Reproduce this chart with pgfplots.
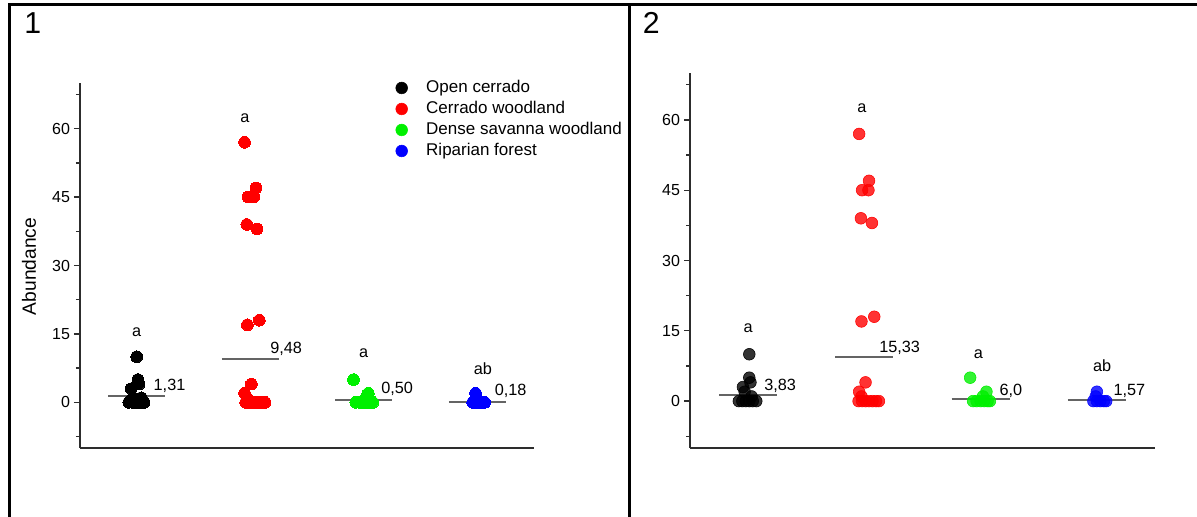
\documentclass[border=0pt]{standalone}
\usepackage{pgfplots}
\pgfplotsset{compat=1.18}
\usepackage{fontspec}
\setmainfont{Liberation Sans}
\definecolor{cgreen}{RGB}{0,240,0}
\definecolor{axgray}{RGB}{45,45,45}
\definecolor{meangray}{RGB}{100,100,100}

\pgfplotsset{
  panel/.style={
    scale only axis,
    axis x line=bottom, axis y line=left,
    axis line style={axgray, line width=1.5pt, -},
    xmin=0.5, xmax=4.5, ymin=-10, ymax=70,
    xtick=\empty,
    ytick={0,15,30,45,60},
    minor ytick={-7.5,7.5,22.5,37.5,52.5,67.5},
    tick align=outside,
    major tick length=4.5pt, minor tick length=3pt,
    tick style={axgray, line width=1pt},
    tick label style={font=\fontsize{12}{14}\selectfont},
    yticklabel style={xshift=0.5pt},
    /pgf/number format/assume math mode=true,
    clip=false,
  },
  dot/.style={only marks, color=#1, mark=*, mark size=4.4pt, mark options={draw=#1, fill=#1, line width=0pt}, forget plot},
  dotb/.style={only marks, color=#1, mark=*, mark size=4.4pt, mark options={draw=none, fill=#1, fill opacity=0.8}, forget plot},
  meanline/.style={meangray, line width=1.5pt, forget plot},
}
\tikzset{
  vlab/.style={anchor=base west, inner sep=0pt, font=\fontsize{12.2}{14}\selectfont},
  glab/.style={anchor=base, inner sep=0pt, font=\fontsize{12.2}{14}\selectfont},
}

\begin{document}
\begin{tikzpicture}
\useasboundingbox (0,0) rectangle (897.75pt,387.75pt);
\fill[white] (0,0) rectangle (897.75pt,387.75pt);
% frame
\draw[line width=2.25pt] (6.75pt,0pt) -- (6.75pt,384pt) -- (897.75pt,384pt);
\draw[line width=2.25pt] (471.75pt,0pt) -- (471.75pt,384pt);
% panel numbers
\node[anchor=north west, inner sep=0pt, font=\fontsize{22.7}{26}\selectfont] at (18pt,378.75pt) {1};
\node[anchor=north west, inner sep=0pt, font=\fontsize{22.7}{26}\selectfont] at (482pt,378.75pt) {2};
% y label
\node[rotate=90, inner sep=0pt, font=\fontsize{14.4}{16}\selectfont] at (21.75pt,187.9pt) {Abundance};

% ---------------- panel 1 ----------------
\begin{axis}[panel, at={(60pt,51.75pt)}, anchor=south west, width=340.5pt, height=273.75pt,
  legend style={draw=none, fill=none, at={(axis cs:3.245,71.6)}, anchor=north west,
    font=\fontsize{12.75}{15}\selectfont,
    nodes={inner sep=1pt, text height=9.5pt, text depth=2.5pt}, row sep=1.75pt,
    /tikz/every odd column/.append style={column sep=13pt}},
  legend cell align=left]
\addplot[dot=black] coordinates {(1.00,10) (1.01,5) (1.02,4) (0.95,3) (1.04,1) (0.97,1)
  (0.93,0) (0.96,0) (0.99,0) (1.02,0) (1.05,0) (1.065,0)};
\addplot[dot=red] coordinates {(1.95,57) (2.05,47) (1.98,45) (2.03,45) (1.97,39) (2.06,38)
  (2.08,18) (1.975,17) (2.01,4) (1.95,2) (1.97,1)
  (1.96,0) (1.99,0) (2.02,0) (2.05,0) (2.08,0) (2.11,0) (2.13,0)};
\addplot[dot=cgreen] coordinates {(2.91,5) (3.04,2) (3.02,1)
  (2.93,0) (2.96,0) (2.99,0) (3.02,0) (3.05,0) (3.08,0)};
\addplot[dot=blue] coordinates {(3.985,2) (3.99,1)
  (3.96,0) (3.99,0) (4.02,0) (4.05,0) (4.065,0)};
\addplot[meanline] coordinates {(0.75,1.31) (1.25,1.31)};
\addplot[meanline] coordinates {(1.75,9.48) (2.25,9.48)};
\addplot[meanline] coordinates {(2.75,0.50) (3.25,0.50)};
\addplot[meanline] coordinates {(3.75,0.18) (4.25,0.18)};
\node[vlab] at (axis cs:1.147,2.5) {1,31};
\node[vlab] at (axis cs:2.174,10.7) {9,48};
\node[vlab] at (axis cs:3.153,1.9) {0,50};
\node[vlab] at (axis cs:4.153,1.6) {0,18};
\node[glab] at (axis cs:1.0,14.45) {a};
\node[glab] at (axis cs:1.952,61.4) {a};
\node[glab] at (axis cs:3.0,9.85) {a};
\node[glab] at (axis cs:4.05,6.13) {ab};
\addlegendimage{only marks, mark=*, mark size=4.4pt, mark options={draw=black, fill=black}}
\addlegendentry{Open cerrado}
\addlegendimage{only marks, mark=*, mark size=4.4pt, mark options={draw=red, fill=red}}
\addlegendentry{Cerrado woodland}
\addlegendimage{only marks, mark=*, mark size=4.4pt, mark options={draw=cgreen, fill=cgreen}}
\addlegendentry{Dense savanna woodland}
\addlegendimage{only marks, mark=*, mark size=4.4pt, mark options={draw=blue, fill=blue}}
\addlegendentry{Riparian forest}
\end{axis}

% ---------------- panel 2 ----------------
\begin{axis}[panel, at={(517.5pt,51.75pt)}, anchor=south west, width=348.75pt, height=281.25pt]
\addplot[dotb=black] coordinates {(1.01,10) (1.01,5) (1.02,4) (0.955,3) (0.97,2) (1.03,1)
  (0.92,0) (0.95,0) (0.98,0) (1.01,0) (1.04,0) (1.07,0)};
\addplot[dotb=red] coordinates {(1.955,57) (2.04,47) (1.98,45) (2.035,45) (1.97,39) (2.065,38)
  (2.085,18) (1.975,17) (2.01,4) (1.955,2) (1.975,1)
  (1.95,0) (1.98,0) (2.01,0) (2.04,0) (2.07,0) (2.10,0) (2.125,0)};
\addplot[dotb=cgreen] coordinates {(2.91,5) (3.05,2) (3.02,1)
  (2.935,0) (2.965,0) (3.0,0) (3.03,0) (3.06,0) (3.08,0)};
\addplot[dotb=blue] coordinates {(4.0,2) (3.99,1)
  (3.97,0) (4.0,0) (4.03,0) (4.06,0) (4.08,0)};
\addplot[meanline] coordinates {(0.75,1.31) (1.25,1.31)};
\addplot[meanline] coordinates {(1.75,9.48) (2.25,9.48)};
\addplot[meanline] coordinates {(2.75,0.50) (3.25,0.50)};
\addplot[meanline] coordinates {(3.75,0.18) (4.25,0.18)};
\node[vlab] at (axis cs:1.137,2.36) {3,83};
\node[vlab] at (axis cs:2.126,10.35) {15,33};
\node[vlab] at (axis cs:3.161,1.29) {6,0};
\node[vlab] at (axis cs:4.141,1.14) {1,57};
\node[glab] at (axis cs:1.0,14.57) {a};
\node[glab] at (axis cs:1.978,61.6) {a};
\node[glab] at (axis cs:2.98,9.0) {a};
\node[glab] at (axis cs:4.045,6.28) {ab};
\end{axis}
\end{tikzpicture}
\end{document}
